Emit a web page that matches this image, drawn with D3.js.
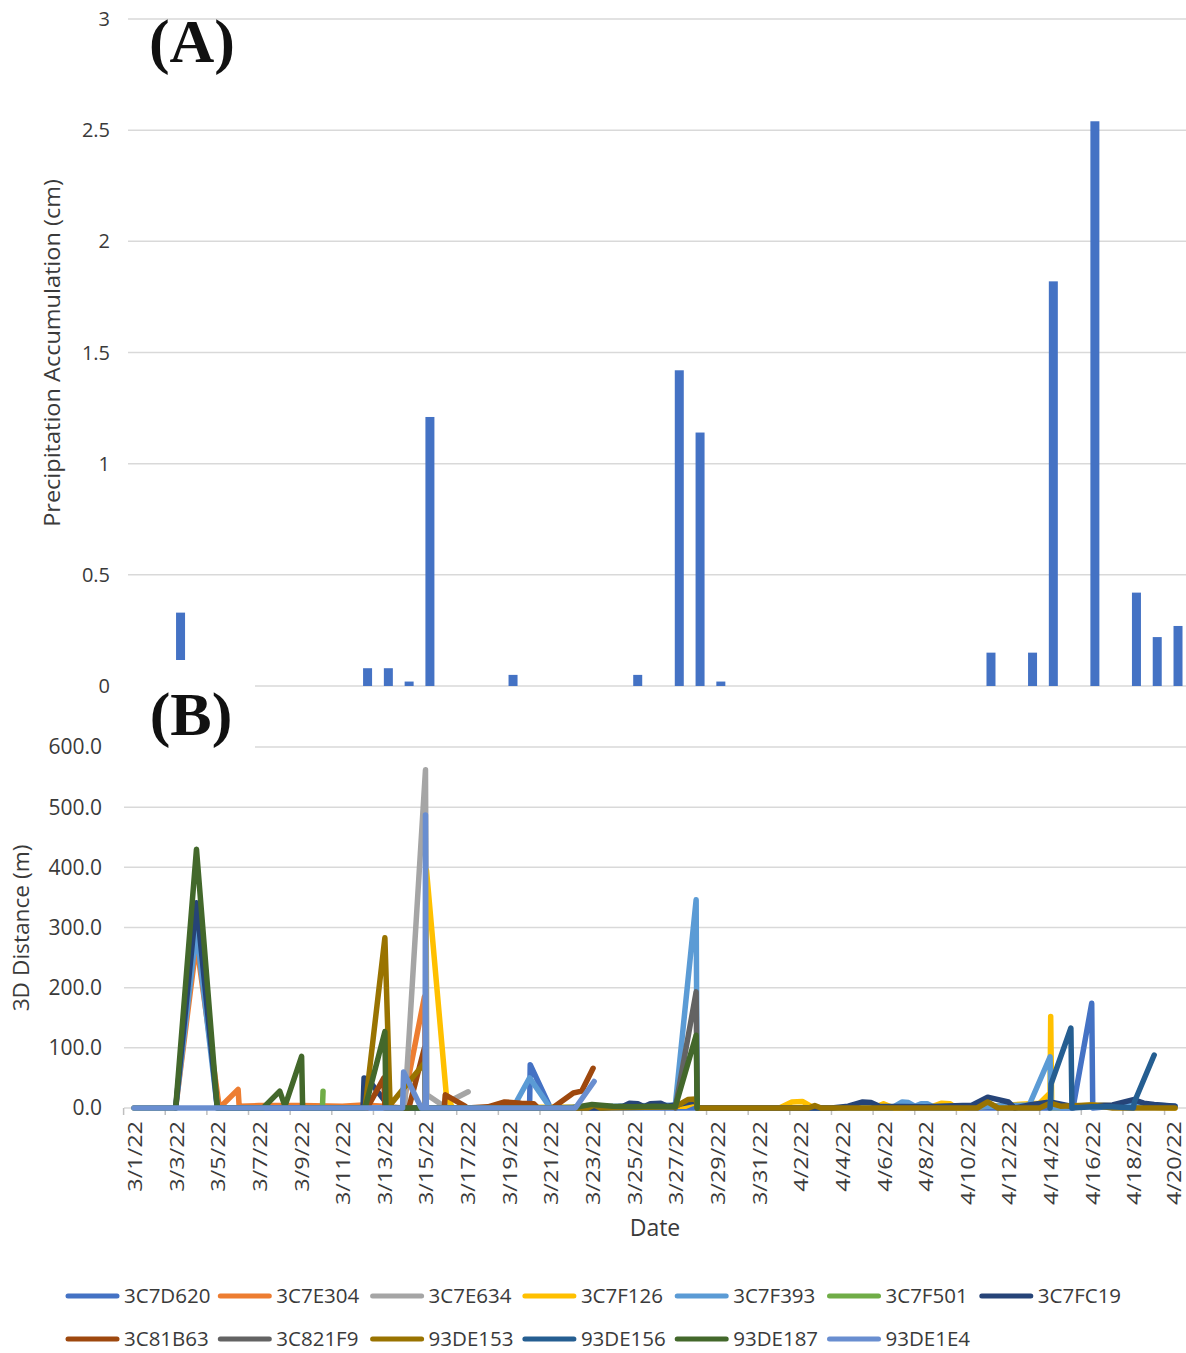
<!DOCTYPE html>
<html>
<head>
<meta charset="utf-8">
<script src="https://cdn.jsdelivr.net/npm/d3@7"></script>
<style>
  body { margin: 0; background: #fff; }
  svg { display: block; }
  text { font-family: "Open Sans", sans-serif; fill: #3a3a3a; }
</style>
</head>
<body>
<div id="chart"></div>
<script>
// categories (one per day)
const dates = ["3/1/22","3/2/22","3/3/22","3/4/22","3/5/22","3/6/22","3/7/22","3/8/22","3/9/22","3/10/22",
  "3/11/22","3/12/22","3/13/22","3/14/22","3/15/22","3/16/22","3/17/22","3/18/22","3/19/22","3/20/22",
  "3/21/22","3/22/22","3/23/22","3/24/22","3/25/22","3/26/22","3/27/22","3/28/22","3/29/22","3/30/22",
  "3/31/22","4/1/22","4/2/22","4/3/22","4/4/22","4/5/22","4/6/22","4/7/22","4/8/22","4/9/22",
  "4/10/22","4/11/22","4/12/22","4/13/22","4/14/22","4/15/22","4/16/22","4/17/22","4/18/22","4/19/22","4/20/22"];

// (A) precipitation, cm
const precipDates  = ["3/3/22","3/12/22","3/13/22","3/14/22","3/15/22","3/19/22","3/25/22","3/27/22","3/28/22","3/29/22",
  "4/11/22","4/13/22","4/14/22","4/16/22","4/18/22","4/19/22","4/20/22"];
const precipValues = [0.33, 0.08, 0.08, 0.02, 1.21, 0.05, 0.05, 1.42, 1.14, 0.02,
  0.15, 0.15, 1.82, 2.54, 0.42, 0.22, 0.27];
const precipTicks = [0, 0.5, 1, 1.5, 2, 2.5, 3];

// (B) 3D distance, m : [days since 3/1, value]
const tagNames = ["3C7D620","3C7E304","3C7E634","3C7F126","3C7F393","3C7F501","3C7FC19",
  "3C81B63","3C821F9","93DE153","93DE156","93DE187","93DE1E4"];
const tagColors = ["#4472C4","#ED7D31","#A5A5A5","#FFC000","#5B9BD5","#70AD47","#264478",
  "#9E480E","#636363","#997300","#255E91","#43682B","#698ED0"];

const s3C7D620 = [[19.0,0],[19.03,72],[20.0,0],[45.1,0],[46.0,174],[46.05,0],[47,3],[48,5],[49,4],[50,3]];
const s3C7E304 = [[2.0,0],[3.0,274],[4.1,0],[5.0,31],[5.05,3],[6,4],[8,4],[10,3],[11,5],[12,3],[12.9,0],[13.95,185],[14.0,0]];
const s3C7E634 = [[13.0,0],[14.0,562],[14.07,22],[14.8,5],[16.05,27]];
const s3C7F126 = [[14.0,0],[14.05,395],[15.0,22],[15.3,0],[26.5,3],[27.0,10],[27.05,0],[31.0,0],[31.6,10],[32.1,11],[32.5,3],
  [33.0,0],[35.5,0],[36.0,7],[36.5,0],[38.4,3],[38.8,8],[39.2,7],[39.5,0],[43.5,8],[44.0,25],[44.03,152],[44.08,0],[46,5],[50,0]];
const s3C7F393 = [[2.0,0],[3.0,296],[4.0,0],[18.2,0],[19.0,50],[20.0,0],[22,2],[26.0,5],[27.0,346],[27.05,0],
  [36.4,0],[36.9,10],[37.2,9],[37.5,3],[37.8,7],[38.1,7],[38.5,0],[43.0,5],[44.0,85],[44.05,0],[49,5],[50,3]];
const s3C7F501 = [[9.05,0],[9.08,28]];
const s3C7FC19 = [[2.0,0],[3.0,341],[4.0,0],[11.0,0],[11.05,50],[11.3,45],[12.2,5],[12.4,0],[22.5,0],[23.5,3],
  [23.8,8],[24.2,7],[24.5,2],[24.8,7],[25.3,8],[25.6,3],[26.0,5],[27.0,12],[27.05,0],[33.5,0],[34.3,3],[35.0,10],[35.4,9],[35.8,3],
  [38,2],[39.8,4],[40.2,4],[41.0,18],[42.0,10],[42.3,0],[43,5],[44,10],[45,3],[47,5],[48.0,14],[48.5,8],[49.0,6],[50,3]];
const s3C81B63 = [[11.2,0],[12.0,50],[12.05,0],[13.2,0],[13.95,100],[14.0,0],[14.9,0],[14.95,22],[15.9,3],[16.0,0],
  [17.0,2],[17.8,10],[18.6,8],[19.2,7],[19.4,0],[20.1,0],[21.1,25],[21.5,28],[22.05,66]];
const s3C821F9 = [[26.0,0],[27.0,193],[27.05,0]];
const s93DE153 = [[11.1,0],[12.05,283],[12.3,5],[13.95,75],[14.0,0],[15,0],[21.8,0],[22.1,5],[22.4,0],[26.0,2],[26.6,14],[27.0,15],[27.05,0],
  [32.4,0],[32.7,4],[33.0,0],[40.5,0],[41.0,10],[41.5,0],[43.5,0],[44,8],[44.5,3],[46,5],[47,0],[50,0]];
const s93DE156 = [[44.0,0],[44.05,40],[45.0,133],[45.05,0],[46,2],[47,2],[48.0,0],[48.05,10],[49.0,88]];
const s93DE187 = [[0,0],[2.0,0],[3.0,430],[4.0,0],[6.2,0],[7.0,28],[7.25,3],[8.05,86],[8.1,0],[11.1,0],[12.05,127],
  [12.1,0],[21.0,0],[22.0,6],[23,3],[24,2],[25,3],[26,2],[27.0,121],[27.05,0]];
const s93DE1E4 = [[0,0],[12.9,0],[12.95,60],[13.8,0],[13.98,0],[14.0,487],[14.04,0],[21.2,0],[22.1,44]];

const tagSeries = [s3C7D620,s3C7E304,s3C7E634,s3C7F126,s3C7F393,s3C7F501,s3C7FC19,
  s3C81B63,s3C821F9,s93DE153,s93DE156,s93DE187,s93DE1E4];
const distTicks = [0, 100, 200, 300, 400, 500, 600];

const width = 1186, height = 1353;
const svg = d3.select("#chart").append("svg")
  .attr("width", width)
  .attr("height", height);

// ---------- panel A ----------
const xA = d3.scaleBand().domain(dates).range([128.6, 1188.4]);
const yA = d3.scaleLinear().domain([0, 3]).range([686, 19]);

svg.append("g")
  .selectAll("line")
  .data(precipTicks)
  .join("line")
    .attr("x1", 128).attr("x2", width)
    .attr("y1", d => yA(d)).attr("y2", d => yA(d))
    .attr("stroke", "#d9d9d9").attr("stroke-width", 1.5);

svg.append("g")
  .attr("font-size", 20)
  .attr("text-anchor", "end")
  .selectAll("text")
  .data(precipTicks)
  .join("text")
    .attr("x", 110)
    .attr("y", d => yA(d))
    .attr("dy", "0.35em")
    .text(d => d);

const barW = 9;
svg.append("g")
  .selectAll("rect")
  .data(precipDates.map((d, i) => ({date: d, value: precipValues[i]})))
  .join("rect")
    .attr("fill", "#4472C4")
    .attr("x", d => xA(d.date) + xA.bandwidth() / 2 - barW / 2)
    .attr("y", d => yA(d.value))
    .attr("width", barW)
    .attr("height", d => yA(0) - yA(d.value));

svg.append("text")
  .attr("transform", `translate(60,353) rotate(-90) scale(1.12,1)`)
  .attr("text-anchor", "middle")
  .attr("font-size", 21)
  .text("Precipitation Accumulation (cm)");

// ---------- panel B ----------
const xB = d3.scaleBand().domain(dates).range([123.6, 1185.4]);
const xT = d3.scaleLinear()
  .domain([0, dates.length - 1])
  .range([xB(dates[0]) + xB.bandwidth() / 2, xB(dates[dates.length - 1]) + xB.bandwidth() / 2]);
const yB = d3.scaleLinear().domain([0, 600]).range([1108, 747]);

svg.append("g")
  .selectAll("line")
  .data(distTicks.filter(d => d > 0))
  .join("line")
    .attr("x1", 124).attr("x2", width)
    .attr("y1", d => yB(d)).attr("y2", d => yB(d))
    .attr("stroke", "#d9d9d9").attr("stroke-width", 1.5);

// x axis line + ticks between every second category
const xAxis = svg.append("g");
xAxis.append("line")
  .attr("x1", 124).attr("x2", width)
  .attr("y1", yB(0)).attr("y2", yB(0))
  .attr("stroke", "#d9d9d9").attr("stroke-width", 1.5);
xAxis.selectAll(".tk")
  .data(dates.filter((d, i) => i % 2 === 0))
  .join("line")
    .attr("class", "tk")
    .attr("x1", d => xB(d)).attr("x2", d => xB(d))
    .attr("y1", yB(0)).attr("y2", yB(0) + 7)
    .attr("stroke", "#bfbfbf").attr("stroke-width", 1.5);
xAxis.selectAll("text")
  .data(dates.filter((d, i) => i % 2 === 0))
  .join("text")
    .attr("transform", d => `translate(${Math.min(xB(d) + xB.bandwidth() / 2 + 1, 1174)},1121) rotate(-90) scale(1.17,1)`)
    .attr("text-anchor", "end")
    .attr("dy", "0.35em")
    .attr("font-size", 20)
    .text(d => d);

svg.append("g")
  .attr("font-size", 21)
  .attr("text-anchor", "end")
  .selectAll("text")
  .data(distTicks)
  .join("text")
    .attr("x", 102)
    .attr("y", d => yB(d))
    .attr("dy", "0.35em")
    .text(d => d3.format(".1f")(d));

const line = d3.line()
  .x(d => xT(d[0]))
  .y(d => yB(d[1]));

svg.append("g")
  .attr("fill", "none")
  .attr("stroke-width", 5.5)
  .attr("stroke-linejoin", "round")
  .attr("stroke-linecap", "round")
  .selectAll("path")
  .data(tagSeries)
  .join("path")
    .attr("stroke", (d, i) => tagColors[i])
    .attr("d", line);

svg.append("text")
  .attr("transform", `translate(29,928) rotate(-90) scale(1.08,1)`)
  .attr("text-anchor", "middle")
  .attr("font-size", 21)
  .text("3D Distance (m)");

svg.append("text")
  .attr("x", 655).attr("y", 1236)
  .attr("text-anchor", "middle")
  .attr("font-size", 23)
  .text("Date");

// white box behind the (B) label, as in the composed figure
svg.append("rect")
  .attr("x", 124).attr("y", 660)
  .attr("width", 131).attr("height", 95)
  .attr("fill", "#fff");

svg.selectAll(".panel")
  .data([{t: "(A)", x: 192, y: 62}, {t: "(B)", x: 191, y: 735}])
  .join("text")
    .attr("class", "panel")
    .attr("x", d => d.x).attr("y", d => d.y)
    .attr("text-anchor", "middle")
    .style("font-family", "'Liberation Serif', 'DejaVu Serif', serif")
    .style("font-size", "62px")
    .style("font-weight", "bold")
    .style("fill", "#111")
    .text(d => d.t);

// legend, two rows of seven
const legend = svg.append("g")
  .selectAll("g")
  .data(tagNames)
  .join("g")
    .attr("transform", (d, i) => `translate(${68 + 152.3 * (i % 7)},${i < 7 ? 1296 : 1339})`);
legend.append("line")
  .attr("x1", 0).attr("x2", 49)
  .attr("stroke", (d, i) => tagColors[i])
  .attr("stroke-width", 5)
  .attr("stroke-linecap", "round");
legend.append("text")
  .attr("x", 56)
  .attr("dy", "0.35em")
  .attr("font-size", 20.5)
  .text(d => d);
</script>
</body>
</html>
